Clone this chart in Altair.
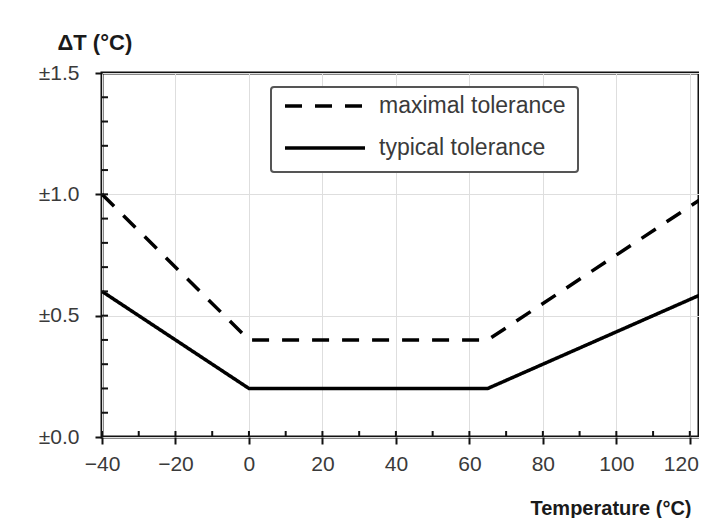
import altair as alt
import pandas as pd

# ---- data ----
temps = [-40, 0, 65, 125]
max_tol = [1.0, 0.4, 0.4, 1.0]
typ_tol = [0.6, 0.2, 0.2, 0.6]
series_names = ["maximal tolerance", "typical tolerance"]

x_ticks = [-40, -20, 0, 20, 40, 60, 80, 100, 120]
y_ticks = [0.0, 0.5, 1.0, 1.5]
x_minor = [-40, -30, -20, -10, 0, 10, 20, 30, 40, 50, 60, 70, 80, 90, 100, 110, 120]
y_minor = [0.1, 0.2, 0.3, 0.4, 0.5, 0.6, 0.7, 0.8, 0.9, 1.0, 1.1, 1.2, 1.3, 1.4]

x_domain = [-40, 122.5]
y_domain = [0, 1.5]

W, H = 597, 364
FONT = "Liberation Sans"

lines_df = pd.DataFrame(
    {"T": temps * 2,
     "dT": max_tol + typ_tol,
     "series": [series_names[0]] * len(temps) + [series_names[1]] * len(temps),
     "order": list(range(len(temps))) * 2}
)
xminor_df = pd.DataFrame({"T": x_minor})
yminor_df = pd.DataFrame({"dT": y_minor})

xscale = alt.Scale(domain=x_domain, nice=False, zero=False)
yscale = alt.Scale(domain=y_domain, nice=False, zero=False)

x_axis = alt.Axis(
    values=x_ticks, grid=True, gridColor="#dedede", gridWidth=1, domain=False,
    tickSize=7, tickWidth=2, tickColor="#111",
    labelFont=FONT, labelFontSize=21, labelColor="#3a3a3a", labelPadding=9,
    labelFlush=False, labelOverlap=False,
    labelOffset={"condition": {"test": "datum.value == 120", "value": -9}, "value": 0},
    title="Temperature (°C)", titleFont=FONT, titleFontSize=20, titleFontWeight="bold",
    titleColor="#1a1a1a", titleAnchor="start", titleAlign="left", titleBaseline="alphabetic",
    titleX=428, titleY=77,
)
y_axis = alt.Axis(
    values=y_ticks, grid=True, gridColor="#dedede", gridWidth=1, domain=False,
    tickSize=7, tickWidth=2, tickColor="#111",
    labelExpr="'±' + format(datum.value, '.1f')",
    labelFont=FONT, labelFontSize=21, labelColor="#3a3a3a", labelPadding=16,
    labelFlush=False, labelOverlap=False,
    title="ΔT (°C)", titleFont=FONT, titleFontSize=22, titleFontWeight="bold",
    titleColor="#1a1a1a", titleAngle=0, titleAnchor="end", titleAlign="left",
    titleBaseline="top", titleX=-45, titleY=-41,
)

lines = alt.Chart(lines_df).mark_line(color="black", strokeWidth=3.5, clip=True).encode(
    x=alt.X("T:Q", scale=xscale, axis=x_axis),
    y=alt.Y("dT:Q", scale=yscale, axis=y_axis),
    strokeDash=alt.StrokeDash(
        "series:N",
        scale=alt.Scale(domain=series_names, range=[[17, 13], [1, 0]]),
        legend=alt.Legend(title=None),
    ),
    order="order:Q",
)

x_minor_ticks = alt.Chart(xminor_df).mark_rule(color="#111", strokeWidth=2).encode(
    x=alt.X("T:Q", scale=xscale, axis=x_axis),
    y=alt.value(H),
    y2=alt.value(H - 6),
)
y_minor_ticks = alt.Chart(yminor_df).mark_rule(color="#111", strokeWidth=2).encode(
    y=alt.Y("dT:Q", scale=yscale, axis=y_axis),
    x=alt.value(0),
    x2=alt.value(6),
)

chart = (
    alt.layer(lines, x_minor_ticks, y_minor_ticks)
    .properties(
        width=W, height=H,
        autosize=alt.AutoSizeParams(type="none"),
        padding={"left": 94, "top": 65, "right": 0, "bottom": 81},
        background="white",
    )
    .configure_view(stroke="#111", strokeWidth=3)
    .configure_legend(
        orient="none", legendX=169, legendY=14,
        padding=12, strokeColor="#555", strokeWidth=2, cornerRadius=3, fillColor="white",
        symbolType="stroke", symbolSize=6400, symbolStrokeWidth=3.5, symbolStrokeColor="black",
        clipHeight=14, rowPadding=19, labelOffset=12, labelLimit=400,
        labelFont=FONT, labelFontSize=23, labelColor="#3a3a3a",
    )
)

chart.save("out.html", embed_options={"renderer": "svg", "actions": False})
